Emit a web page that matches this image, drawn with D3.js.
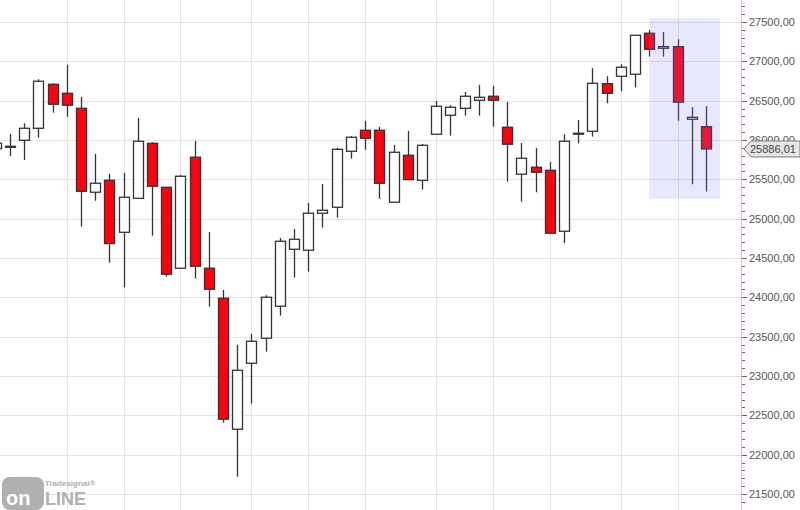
<!DOCTYPE html>
<html>
<head>
<meta charset="utf-8">
<script src="https://cdn.jsdelivr.net/npm/d3@7"></script>
<style>
  body { margin: 0; background: #fff; }
  svg { display: block; font-family: "Liberation Sans", Arial, sans-serif; }
</style>
</head>
<body>
<svg id="chart" width="800" height="510"></svg>
<script>
// candle index -1 is the partly visible one at the left edge
const idx   = d3.range(-1, 50);
const open  = [25890,25920,25996,26149,26708,26594,26403,25336,25488,24827,25259,25958,25399,24370,25781,24370,23989,22323,23162,23480,23887,24611,24599,25069,25145,25857,26124,26124,25209,25806,25488,26073,26315,26403,26505,26556,26162,25565,25654,25615,24840,26086,26111,26716,26810,26836,27357,27166,27187,26264,26170];
const high  = [26020,26077,26212,26772,26720,26954,26547,25823,25568,25581,26280,25971,25399,25556,25988,24831,24094,23395,23535,24027,24755,24869,25200,25441,25900,26051,26242,26166,25937,26115,25950,26496,26442,26611,26700,26687,26484,25962,25899,25721,26073,26255,26912,26810,26963,27331,27399,27373,27280,26416,26429];
const low   = [25850,25797,25746,26030,26348,26297,24899,25229,24441,24128,25259,24784,24263,24370,24238,23882,22408,21721,22649,23310,23768,24251,24327,24886,25013,25763,25877,25251,25209,25496,25369,26073,26055,26310,26310,26170,25471,25216,25336,24815,24688,25959,26043,26467,26620,26670,27060,27060,26246,25438,25344];
const close = [25960,25920,26149,26747,26454,26442,25348,25450,24683,25272,25984,25412,24294,25539,24395,24103,22451,23073,23442,24001,24713,24738,25069,25107,25882,26035,26022,25450,25844,25496,25933,26429,26416,26556,26543,26505,25946,25768,25590,24815,25984,26086,26721,26594,26925,27331,27153,27187,26480,26289,25886.01];
const gridIdx = [4, 8, 12, 17, 21, 25, 30, 34, 38, 43, 47];
const yTicks = d3.range(21500, 27501, 500);
const lastPrice = 25886.01;
const highlight = { from: 45, to: 50, top: 27547, bottom: 25251 };

const data = idx.map((i, k) => ({ i, o: open[k], h: high[k], l: low[k], c: close[k] }));

const svg = d3.select('#chart');
const axisX = 741;
const x = d3.scaleLinear().domain([0, 49]).range([10, 706]);
const y = d3.scaleLinear().domain([21500, 27500]).range([494, 22]);
const fmt = v => d3.format('.2f')(v).replace('.', ',');

svg.append('clipPath').attr('id', 'plot')
  .append('rect').attr('x', 0).attr('y', 0).attr('width', axisX).attr('height', 510);

// grid
svg.append('g').selectAll('line').data(yTicks).join('line')
  .attr('x1', 0).attr('x2', axisX).attr('y1', d => Math.round(y(d)) + 0.5).attr('y2', d => Math.round(y(d)) + 0.5)
  .attr('stroke', '#e3e3e3');
svg.append('g').selectAll('line').data(gridIdx).join('line')
  .attr('x1', d => Math.round(x(d)) + 0.5).attr('x2', d => Math.round(x(d)) + 0.5).attr('y1', 0).attr('y2', 510)
  .attr('stroke', '#e3e3e3');

// candles
const g = svg.append('g').attr('clip-path', 'url(#plot)');
const cand = g.selectAll('g').data(data).join('g');
cand.append('line')
  .attr('x1', d => Math.round(x(d.i)) + 0.5).attr('x2', d => Math.round(x(d.i)) + 0.5)
  .attr('y1', d => y(d.h)).attr('y2', d => y(d.l))
  .attr('stroke', '#333').attr('stroke-width', 1.3);
cand.append('rect')
  .attr('x', d => Math.round(x(d.i)) - 4.5)
  .attr('width', 10)
  .attr('y', d => y(Math.max(d.o, d.c)))
  .attr('height', d => Math.max(1, Math.abs(y(d.o) - y(d.c))))
  .attr('fill', d => d.c < d.o ? '#ff0010' : '#fff')
  .attr('stroke', '#333').attr('stroke-width', 1.3);

// highlighted zone
svg.append('rect')
  .attr('x', x(highlight.from)).attr('width', x(highlight.to) - x(highlight.from))
  .attr('y', y(highlight.top)).attr('height', y(highlight.bottom) - y(highlight.top))
  .attr('fill', 'rgb(120,120,255)').attr('opacity', 0.18);

// price axis
svg.append('line').attr('x1', axisX + 0.5).attr('x2', axisX + 0.5).attr('y1', 0).attr('y2', 510)
  .attr('stroke', '#e8b8b8');
const minor = d3.range(21400, 27701, 100);
svg.append('g').selectAll('line').data(minor).join('line')
  .attr('x1', axisX + 1).attr('x2', d => axisX + (d % 500 === 0 ? 6 : 4))
  .attr('y1', d => Math.round(y(d)) + 0.5).attr('y2', d => Math.round(y(d)) + 0.5)
  .attr('stroke', '#666');
svg.append('g').selectAll('text').data(yTicks).join('text')
  .attr('x', 749).attr('y', d => y(d) + 4)
  .attr('font-size', 11).attr('fill', '#555')
  .text(fmt);

// last price tag
const ly = y(lastPrice);
svg.append('path')
  .attr('d', `M${axisX + 3},${ly} L${axisX + 10},${ly - 8} L800,${ly - 8} L800,${ly + 8} L${axisX + 10},${ly + 8} Z`)
  .attr('fill', '#e6e6e6').attr('stroke', '#777');
svg.append('text').attr('x', 750).attr('y', ly + 4)
  .attr('font-size', 11).attr('fill', '#444').text(fmt(lastPrice));

// logo
const logo = svg.append('g').attr('fill', '#b0b0b0');
logo.append('rect').attr('x', 2).attr('y', 477).attr('width', 42).attr('height', 33).attr('rx', 8);
logo.append('text').attr('x', 45).attr('y', 486).attr('font-size', 8).attr('font-weight', 'bold').text('Tradesignal®');
logo.append('text').attr('x', 6).attr('y', 505).attr('font-size', 20).attr('font-weight', 'bold')
  .attr('fill', '#fff').text('on');
logo.append('text').attr('x', 45).attr('y', 505).attr('font-size', 18).attr('font-weight', 'bold').text('LINE');
</script>
</body>
</html>
